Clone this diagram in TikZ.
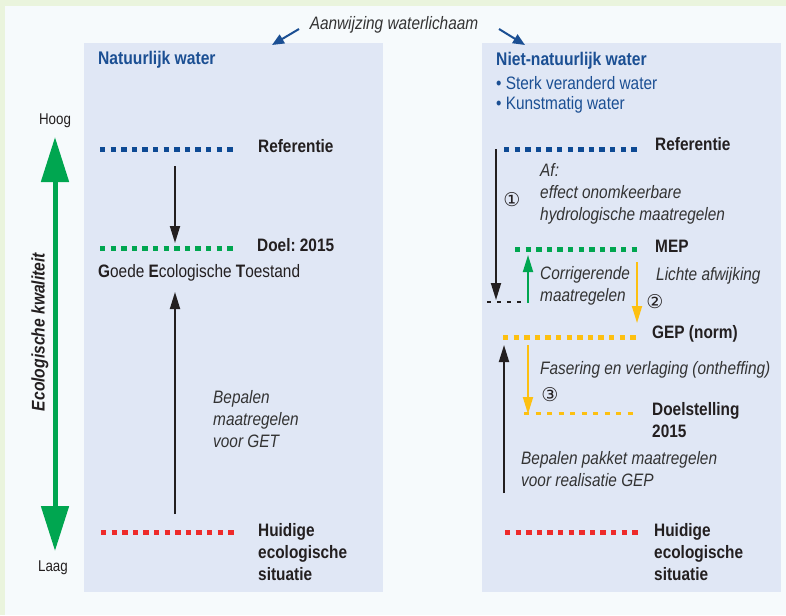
\documentclass[tikz,border=0pt]{standalone}
\usepackage{fontspec}
\setmainfont{Liberation Sans}[FakeStretch=0.855]
\newfontfamily\symfont{DejaVu Sans}
\usetikzlibrary{arrows.meta}
\frenchspacing
\definecolor{framegreen}{HTML}{EAF4DD}
\definecolor{innerbg}{HTML}{F6FAFC}
\definecolor{panelbg}{HTML}{E0E7F5}
\definecolor{bluetxt}{HTML}{1B4F93}
\definecolor{bluedot}{HTML}{0D4A94}
\definecolor{grn}{HTML}{00A650}
\definecolor{redd}{HTML}{EE2A2A}
\definecolor{yel}{HTML}{FDC010}
\definecolor{txt}{HTML}{231F20}
\definecolor{ittxt}{HTML}{333333}
\tikzset{
  lbl/.style={anchor=west,inner sep=0pt,text=txt,font=\fontsize{18}{22.3}\selectfont\bfseries,align=left},
  itl/.style={anchor=west,inner sep=0pt,text=ittxt,font=\fontsize{18}{22}\selectfont\itshape,align=left},
  ttl/.style={anchor=west,inner sep=0pt,text=bluetxt,font=\fontsize{18.3}{22}\selectfont\bfseries},
  sub/.style={anchor=west,inner sep=0pt,text=bluetxt,font=\fontsize{18}{22}\selectfont},
  level/.style={line width=5pt,dash pattern=on 5.3pt off 5.3pt},
  blk/.style={line width=1.8pt,draw=txt,-{Triangle[length=17pt,width=10pt]}},
  grnarr/.style={line width=1.8pt,draw=grn,-{Triangle[length=17pt,width=10pt]}},
  yelarr/.style={line width=1.8pt,draw=yel,-{Triangle[length=17pt,width=10pt]}},
  bluearr/.style={line width=2pt,draw=bluetxt,-{Triangle[length=12pt,width=10pt]}},
  circnum/.style={inner sep=0pt,text=txt,font=\symfont\fontsize{19}{19}\selectfont},
}
\begin{document}
\begin{tikzpicture}[x=1pt,y=-1pt]
\useasboundingbox (0,0) rectangle (786,615);
\fill[framegreen] (0,0) rectangle (786,615);
\fill[innerbg] (5,6) rectangle (786,615);
\fill[panelbg] (84,43) rectangle (383,592);
\fill[panelbg] (482,43) rectangle (781,592);

% top label and arrows
\node[itl,anchor=center] (aanw) at (394,25) {Aanwijzing waterlichaam};
\coordinate (la1) at (299,29); \coordinate (la2) at (272,45);
\coordinate (ra1) at (499,29); \coordinate (ra2) at (525,45);
\draw[bluearr] (la1) -- (la2);
\draw[bluearr] (ra1) -- (ra2);

% titles
\node[ttl] (nat) at (98,60) {Natuurlijk water};
\node[ttl] (niet) at (496,61) {Niet-natuurlijk water};
\node[sub] (sterk) at (496,83) {\textbullet\ Sterk veranderd water};
\node[sub] (kunst) at (496,105) {\textbullet\ Kunstmatig water};

% axis
\node[inner sep=0pt,text=txt,font=\fontsize{15.6}{17}\selectfont] (hoog) at (55,121) {Hoog};
\node[inner sep=0pt,text=txt,font=\fontsize{15.6}{17}\selectfont] (laag) at (53,568) {Laag};
\coordinate (gtop) at (55,137); \coordinate (gbot) at (55,551);
\draw[line width=5pt,draw=grn,{Triangle[length=45pt,width=27pt]}-{Triangle[length=45pt,width=27pt]}] (gtop) -- (gbot);
\node[rotate=90,inner sep=0pt,text=txt,font=\fontsize{18.3}{20}\selectfont\bfseries\itshape] (eco) at (40,332) {Ecologische kwaliteit};

% left panel levels
\coordinate (lb1) at (100,149); \coordinate (lb2) at (234,149);
\coordinate (lg1) at (100,248); \coordinate (lg2) at (234,248);
\coordinate (lr1) at (101,532); \coordinate (lr2) at (235,532);
\draw[level,bluedot] (lb1) -- (lb2);
\draw[level,grn] (lg1) -- (lg2);
\draw[level,redd] (lr1) -- (lr2);
\node[lbl] (lref) at (258,146) {Referentie};
\node[lbl] (ldoel) at (257,245) {Doel: 2015};
\node[lbl,font=\fontsize{18}{22}\selectfont] (get) at (98,273) {\textbf{G}oede \textbf{E}cologische \textbf{T}oestand};
\node[lbl] (lhuid) at (258,552) {Huidige\\ecologische\\situatie};
\coordinate (la_s) at (175,166); \coordinate (la_e) at (175,243);
\draw[blk] (la_s) -- (la_e);
\coordinate (lb_s) at (175,514); \coordinate (lb_e) at (175,292);
\draw[blk] (lb_s) -- (lb_e);
\node[itl] (lbep) at (213,419) {Bepalen\\maatregelen\\voor GET};

% right panel levels
\coordinate (rb1) at (504,149); \coordinate (rb2) at (638,149);
\coordinate (rg1) at (515,249); \coordinate (rg2) at (638,249);
\coordinate (ry1) at (503,337); \coordinate (ry2) at (637,337);
\coordinate (rd1) at (524,413); \coordinate (rd2) at (638,413);
\coordinate (rr1) at (505,532); \coordinate (rr2) at (639,532);
\draw[level,bluedot] (rb1) -- (rb2);
\draw[level,grn] (rg1) -- (rg2);
\draw[level,yel] (ry1) -- (ry2);
\draw[line width=3pt,yel,dash pattern=on 5pt off 6.5pt] (rd1) -- (rd2);
\draw[level,redd] (rr1) -- (rr2);
\node[lbl] (rref) at (655,144) {Referentie};
\node[lbl] (mep) at (655,246) {MEP};
\node[lbl] (gep) at (652,334) {GEP (norm)};
\node[lbl] (doelst) at (652,420) {Doelstelling\\2015};
\node[lbl] (rhuid) at (654,552) {Huidige\\ecologische\\situatie};

% right arrows
\coordinate (r1s) at (496,149); \coordinate (r1e) at (496,300);
\draw[blk] (r1s) -- (r1e);
\coordinate (dsh1) at (487,302); \coordinate (dsh2) at (522,302);
\draw[line width=2pt,draw=txt,dash pattern=on 4pt off 6pt] (dsh1) -- (dsh2);
\node[circnum] (n1) at (512,200) {①};
\node[itl] (af) at (540,194) {Af:\\effect onomkeerbare\\hydrologische maatregelen};

\coordinate (gs) at (528,303); \coordinate (ge) at (528,255);
\draw[grnarr] (gs) -- (ge);
\node[itl] (corr) at (540,286) {Corrigerende\\maatregelen};

\coordinate (y1s) at (637,262); \coordinate (y1e) at (637,323);
\draw[yelarr] (y1s) -- (y1e);
\node[itl] (licht) at (656,276) {Lichte afwijking};
\node[circnum] (n2) at (655,302) {②};

\coordinate (b2s) at (504,493); \coordinate (b2e) at (504,345);
\draw[blk] (b2s) -- (b2e);
\coordinate (y2s) at (528,345); \coordinate (y2e) at (528,414);
\draw[yelarr] (y2s) -- (y2e);
\node[itl] (fas) at (540,370) {Fasering en verlaging (ontheffing)};
\node[circnum] (n3) at (550,395) {③};
\node[itl] (rbep) at (521,469) {Bepalen pakket maatregelen\\voor realisatie GEP};
\end{tikzpicture}
\end{document}
